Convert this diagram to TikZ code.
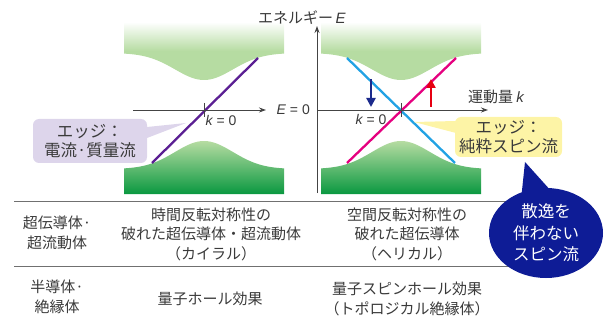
\documentclass[tikz,border=0pt]{standalone}
\usepackage{fontspec}
\setmainfont{Noto Sans CJK JP}
\newfontfamily\latin{Liberation Sans}
\usetikzlibrary{arrows.meta,positioning,calc,shapes.geometric}
\definecolor{bandlight}{HTML}{B6DCA2}
\definecolor{banddark}{HTML}{0A9840}
\definecolor{txtgray}{HTML}{3A3A3A}
\definecolor{axisgray}{HTML}{444444}
\definecolor{edgepurple}{HTML}{5B1F93}
\definecolor{edgepink}{HTML}{E5007F}
\definecolor{edgeblue}{HTML}{22A2E4}
\definecolor{spinnavy}{HTML}{1B2A8C}
\definecolor{spinred}{HTML}{E60012}
\definecolor{calloutlav}{HTML}{DDD5EB}
\definecolor{calloutyel}{HTML}{FDF4A6}
\definecolor{bubbleblue}{HTML}{0E1C96}
\definecolor{rulegray}{HTML}{707070}
\newcommand{\symk}{{\latin\itshape k}}
\newcommand{\symE}{{\latin\itshape E}}

\begin{document}
\begin{tikzpicture}[x=1pt, y=-1pt, >={Stealth[length=7pt,width=5pt]},
  txt/.style={text=txtgray, align=center, inner sep=0pt, font=\fontsize{15}{19.5}\selectfont},
  axislbl/.style={text=txtgray, inner sep=0pt, font=\fontsize{15}{17}\selectfont},
  zerolbl/.style={text=txtgray, inner sep=0pt, font=\latin\fontsize{14}{16}\selectfont},
  callout/.style={rounded corners=6pt, align=center, text=txtgray, inner sep=0pt,
    font=\fontsize{16.5}{19.5}\selectfont},
  axis/.style={draw=axisgray, line width=0.9pt, ->},
  tick/.style={draw=axisgray, line width=0.9pt},
  edgeline/.style={line width=2.3pt},
  spin/.style={line width=2.6pt, -{Triangle[length=9pt,width=9pt]}},
  rule/.style={draw=rulegray, line width=1pt}]
  \useasboundingbox (0,0) rectangle (608,326);

  % energy bands of both panels
  \foreach \cx in {204,401} {
    \shade[top color=white, bottom color=bandlight, middle color=bandlight]
      (\cx-80,22) -- (\cx+80,22) -- (\cx+80,53)
      -- plot[domain=\cx+80:\cx-80, samples=60, smooth]
         (\x, {53+27*exp(-((\x-\cx)/41)*((\x-\cx)/41))}) -- cycle;
    \shade[top color=bandlight, bottom color=banddark]
      (\cx-80,194) -- (\cx+80,194) -- (\cx+80,169)
      -- plot[domain=\cx+80:\cx-80, samples=60, smooth]
         (\x, {169-28*exp(-((\x-\cx)/41)*((\x-\cx)/41))}) -- cycle;
  }

  % edge states
  \draw[edgeline, edgepurple] (152,163) -- (258,58);
  \draw[edgeline, edgeblue] (347,58) -- (455,163);
  \draw[edgeline, edgepink] (347,163) -- (456,58);

  % axes
  \draw[axis] (133,110) -- (266,110);
  \draw[axis] (317,110) -- (488,110);
  \draw[axis] (317,193) -- (317,26);
  \draw[tick] (204,103) -- (204,117);
  \draw[tick] (401,103) -- (401,117);
  \node[axislbl, anchor=west] (Elbl) at (258,18) {エネルギー\,\symE};
  \node[zerolbl, anchor=east] (E0) at (310,110) {\symE\ = 0};
  \node[axislbl] (klbl) at (496,97) {運動量 \symk};
  \node[zerolbl] (k0L) at (221,120) {\symk\ = 0};
  \node[zerolbl] (k0R) at (371,119) {\symk\ = 0};

  % spins
  \draw[spin, spinnavy] (371,79) -- (371,107);
  \draw[spin, spinred] (431,107) -- (431,79);

  % callouts
  \fill[calloutlav] (147,127) -- (186,123) -- (147,138) -- cycle;
  \node[callout, fill=calloutlav, minimum width=114pt, minimum height=44pt]
    (edgeL) at (90,141) {エッジ：\\電流·質量流};
  \fill[calloutyel] (456,121) -- (414,122) -- (456,133) -- cycle;
  \node[callout, fill=calloutyel, minimum width=107pt, minimum height=40pt]
    (edgeR) at (508.5,137) {エッジ：\\純粋スピン流};

  % table
  \draw[rule] (14,201) -- (540,201);
  \draw[rule] (14,266) -- (540,266);
  \node[txt] (scRow) at (57,233) {超伝導体·\\超流動体};
  \node[txt] (scChiral) at (211,234) {時間反転対称性の\\破れた超伝導体・超流動体\\（カイラル）};
  \node[txt] (scHelical) at (407,234) {空間反転対称性の\\破れた超伝導体\\（ヘリカル）};
  \node[txt] (semiRow) at (57,297) {半導体·\\絶縁体};
  \node[txt] (qhe) at (210,299) {量子ホール効果};
  \node[txt] (qshe) at (407,299) {量子スピンホール効果\\（トポロジカル絶縁体）};

  % bubble
  \fill[bubbleblue] (525,162) -- (552,192) -- (521,200) -- cycle;
  \node[ellipse, fill=bubbleblue, minimum width=114pt, minimum height=90pt, inner sep=0pt,
    text=white, align=center, font=\fontsize{16.5}{21.5}\selectfont]
    (bubble) at (546,233) {散逸を\\伴わない\\スピン流};
\end{tikzpicture}
\end{document}
